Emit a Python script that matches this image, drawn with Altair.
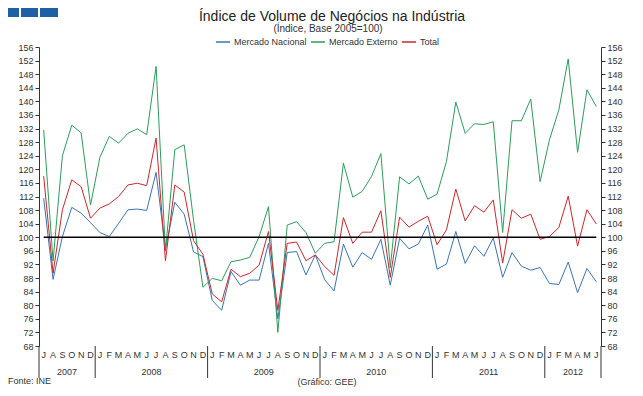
import altair as alt
import pandas as pd

# ---------------- data ----------------
months = (["J", "A", "S", "O", "N", "D"]
          + ["J", "F", "M", "A", "M", "J", "J", "A", "S", "O", "N", "D"] * 4
          + ["J", "F", "M", "A", "M", "J"])
years = ["2007", "2008", "2009", "2010", "2011", "2012"]
year_mid = [2.5, 11.5, 23.5, 35.5, 47.5, 56.5]
year_edges = [-0.5, 5.5, 17.5, 29.5, 41.5, 53.5, 59.5]

nacional = [111.5, 87.6, 100.2, 108.8, 107.1, 104.3,
            101.4, 100.2, 104.1, 108.1, 108.3, 107.9, 119.1, 96.5, 110.3, 106.8, 95.7, 94.3,
            81.4, 78.5, 89.9, 85.9, 87.4, 87.4, 98.2, 76.0, 95.5, 95.8, 88.9, 94.8,
            87.5, 84.2, 98.0, 91.2, 95.5, 93.5, 99.4, 85.9, 99.7, 96.6, 98.0, 103.6,
            90.6, 92.1, 101.7, 92.3, 97.5, 94.4, 99.8, 88.2, 95.5, 91.5, 90.3, 91.1,
            86.4, 86.1, 92.7, 83.7, 90.8, 86.9]
externo = [131.6, 93.0, 124.0, 133.0, 130.7, 109.5,
           123.5, 129.7, 127.7, 130.6, 131.9, 130.2, 150.3, 96.0, 125.8, 127.2, 105.0, 85.3,
           87.9, 87.2, 92.8, 93.3, 94.1, 100.2, 109.0, 72.0, 103.6, 104.6, 101.4, 95.3,
           98.2, 98.7, 121.8, 111.8, 113.5, 117.9, 124.6, 91.0, 117.8, 115.7, 118.0, 111.2,
           112.7, 122.3, 139.8, 130.6, 133.4, 133.2, 134.0, 101.4, 134.3, 134.3, 140.7, 116.4,
           128.7, 137.5, 152.5, 125.0, 143.4, 138.5]
total = [118.0, 89.4, 108.1, 116.9, 114.9, 105.6,
         108.6, 109.8, 112.0, 115.4, 115.9, 115.2, 129.2, 93.1, 115.4, 113.3, 99.0, 95.0,
         83.3, 81.0, 90.6, 88.4, 89.4, 91.8, 101.7, 78.5, 98.2, 98.6, 93.1, 94.8,
         91.4, 88.8, 105.8, 98.2, 101.5, 101.5, 107.8, 88.2, 105.9, 103.0, 104.7, 106.2,
         97.8, 102.2, 114.2, 104.8, 109.3, 107.4, 111.0, 92.4, 108.1, 105.6, 106.8, 99.4,
         100.2, 102.9, 112.1, 97.4, 108.1, 103.9]

series_names = ["Mercado Nacional", "Mercado Externo", "Total"]
series_colors = ["#3A74B0", "#2E9B5B", "#C8282E"]
y_ticks = list(range(68, 157, 4))

title_text = "Índice de Volume de Negócios na Indústria"
subtitle_text = "(Índice, Base 2005=100)"
source_text = "Fonte: INE"
credit_text = "(Gráfico: GEE)"

# ---------------- tables ----------------
rows = []
for name, vals in zip(series_names, [nacional, externo, total]):
    for i, v in enumerate(vals):
        rows.append({"idx": i, "valor": v, "serie": name})
df = pd.DataFrame(rows)
df_ref = pd.DataFrame({"x0": [0], "x1": [len(months) - 1], "v": [100]})
df_months = pd.DataFrame({"idx": list(range(len(months))), "m": months})
df_years = pd.DataFrame({"pos": year_mid, "ano": years})
df_edges = pd.DataFrame({"e": year_edges})

W, H = 562, 299
FONT = "Liberation Sans"
TXT = "#333333"

xs = alt.Scale(domain=[-0.5, len(months) - 0.5], nice=False, zero=False)
ys = alt.Scale(domain=[68, 156], nice=False, zero=False)
boundaries = [k - 0.5 for k in range(len(months) + 1)]

lines = alt.Chart(df).mark_line(strokeWidth=1).encode(
    x=alt.X("idx:Q", scale=xs,
            axis=alt.Axis(values=boundaries, tickSize=16, labels=False, title=None,
                          grid=False, domainColor=TXT, tickColor=TXT)),
    y=alt.Y("valor:Q", scale=ys,
            axis=alt.Axis(values=y_ticks, tickSize=4, labelPadding=2, title=None, grid=False,
                          orient="left", domainColor=TXT, tickColor=TXT)),
    color=alt.Color("serie:N",
                    scale=alt.Scale(domain=series_names, range=series_colors),
                    sort=series_names,
                    legend=alt.Legend(orient="none", legendX=176, legendY=-13,
                                      direction="horizontal", title=None,
                                      symbolType="stroke", symbolSize=200,
                                      symbolStrokeWidth=1.5, labelFontSize=9,
                                      labelFont=FONT, labelColor=TXT,
                                      columnPadding=0, padding=0, labelOffset=3)),
    order=alt.Order("serie:N", sort="descending"),
)

ref = alt.Chart(df_ref).mark_rule(color="black", strokeWidth=1.5).encode(
    x=alt.X("x0:Q", scale=xs, axis=None),
    x2="x1:Q",
    y=alt.Y("v:Q", scale=ys,
            axis=alt.Axis(values=y_ticks, tickSize=4, labelPadding=2, title=None, grid=False,
                          orient="right", domainColor=TXT, tickColor=TXT)),
)

month_txt = alt.Chart(df_months).mark_text(fontSize=9, font=FONT, color=TXT,
                                           baseline="middle").encode(
    x=alt.X("idx:Q", scale=xs, axis=None),
    y=alt.value(H + 9),
    text="m:N",
)

year_rules = alt.Chart(df_edges).mark_rule(color=TXT, strokeWidth=1).encode(
    x=alt.X("e:Q", scale=xs, axis=None),
    y=alt.value(H),
    y2=alt.value(H + 32),
)

year_txt = alt.Chart(df_years).mark_text(fontSize=9, font=FONT, color=TXT,
                                         baseline="middle").encode(
    x=alt.X("pos:Q", scale=xs, axis=None),
    y=alt.value(H + 26),
    text="ano:N",
)


def label(text, x, y, size, align="center", baseline="middle", color=TXT):
    return alt.Chart(pd.DataFrame({"t": [text]})).mark_text(
        fontSize=size, font=FONT, color=color, align=align, baseline=baseline
    ).encode(x=alt.value(x), y=alt.value(y), text="t:N")


title = label(title_text, 293, -30, 14, color="#222222")
subtitle = label(subtitle_text, 289, -18, 10)
source = label(source_text, -31, 334, 9, align="left")
credit = label(credit_text, 288, 335, 9)


def square(x0, x1):
    return alt.Chart(pd.DataFrame({"k": [0]})).mark_rect(color="#1F5FA3").encode(
        x=alt.value(x0), x2=alt.value(x1), y=alt.value(-44), y2=alt.value(-30)
    )


logo = square(-36, -20) + square(-18, -1) + square(1, 19)

chart = alt.layer(
    year_rules, lines, ref, month_txt, year_txt, title, subtitle, source, credit, logo
).resolve_axis(y="independent").properties(
    width=W, height=H,
    padding={"left": 31, "top": 39, "right": 34, "bottom": 42},
    autosize=alt.AutoSizeParams(type="none"),
).configure_view(stroke=None).configure_axis(
    labelFont=FONT, labelFontSize=9, labelColor=TXT
)

chart.save("out.html", embed_options={"renderer": "svg", "actions": False})
